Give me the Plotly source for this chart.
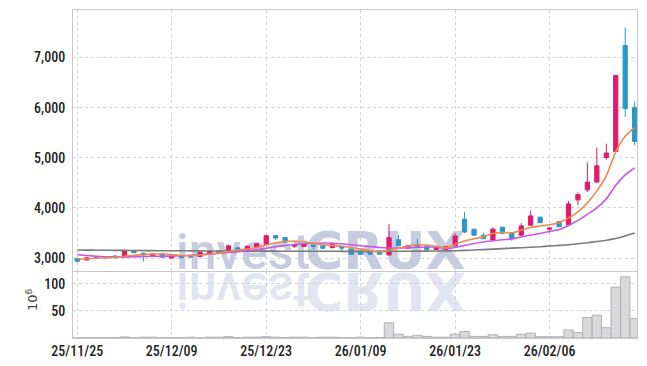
import plotly.graph_objects as go

dates = [
    "25/11/25", "25/11/26", "25/11/27", "25/11/28",
    "25/12/01", "25/12/02", "25/12/03", "25/12/04", "25/12/05",
    "25/12/08", "25/12/09", "25/12/10", "25/12/11", "25/12/12",
    "25/12/15", "25/12/16", "25/12/17", "25/12/18", "25/12/19",
    "25/12/22", "25/12/23", "25/12/24", "25/12/26", "25/12/29", "25/12/30",
    "26/01/02", "26/01/05", "26/01/06", "26/01/07", "26/01/08", "26/01/09",
    "26/01/12", "26/01/13", "26/01/14", "26/01/15", "26/01/16",
    "26/01/19", "26/01/20", "26/01/21", "26/01/22", "26/01/23",
    "26/01/26", "26/01/27", "26/01/28", "26/01/29", "26/01/30",
    "26/02/02", "26/02/03", "26/02/04", "26/02/05", "26/02/06",
    "26/02/09", "26/02/10", "26/02/11", "26/02/12", "26/02/13",
    "26/02/19", "26/02/20", "26/02/23", "26/02/24",
]

open_ = [2990, 2960, 3015, 3030, 3040, 3020, 3150, 3095, 3035, 3080,
         3000, 3040, 3030, 3030, 3078, 3140, 3125, 3205, 3165, 3205,
         3275, 3445, 3410, 3235, 3232, 3260, 3245, 3205, 3232, 3180,
         3140, 3115, 3140, 3060, 3365, 3195, 3270, 3235, 3168, 3165,
         3240, 3775, 3575, 3455, 3360, 3615, 3505, 3455, 3655, 3815,
         3575, 3725, 3660, 4160, 4360, 4515, 5005, 5125, 7240, 6000]
high = [3000, 3010, 3035, 3035, 3055, 3150, 3160, 3110, 3095, 3085,
        3045, 3050, 3045, 3125, 3145, 3150, 3250, 3215, 3240, 3290,
        3455, 3450, 3415, 3270, 3285, 3265, 3250, 3280, 3240, 3185,
        3145, 3120, 3145, 3675, 3460, 3260, 3380, 3240, 3200, 3235,
        3495, 3920, 3580, 3500, 3615, 3620, 3510, 3695, 3950, 3820,
        3620, 3730, 4135, 4310, 4905, 5205, 5280, 6645, 7600, 6115]
low = [2925, 2955, 2990, 2995, 2990, 3015, 3100, 2930, 3030, 3010,
       2995, 3000, 3010, 3025, 3070, 3095, 3120, 3150, 3160, 3200,
       3270, 3355, 3300, 3200, 3225, 3170, 3185, 3200, 3140, 3070,
       3070, 3070, 3060, 3055, 3240, 3180, 3230, 3160, 3160, 3150,
       3235, 3495, 3450, 3380, 3340, 3470, 3345, 3450, 3650, 3700,
       3510, 3620, 3655, 4055, 4315, 4510, 4960, 5120, 5815, 5245]
close = [2935, 3005, 3005, 3000, 3005, 3140, 3105, 3060, 3085, 3015,
         3040, 3005, 3020, 3118, 3135, 3100, 3245, 3155, 3235, 3285,
         3445, 3400, 3315, 3262, 3268, 3235, 3195, 3272, 3195, 3075,
         3075, 3075, 3075, 3405, 3245, 3245, 3235, 3168, 3192, 3225,
         3440, 3520, 3455, 3385, 3575, 3495, 3385, 3640, 3840, 3705,
         3595, 3625, 4080, 4265, 4515, 4840, 5095, 6640, 5980, 5325]

ma_short = [2975, 2985, 2995, 3005, 3015, 3035, 3055, 3070, 3080, 3085,
            3070, 3050, 3045, 3060, 3080, 3095, 3125, 3155, 3180, 3210,
            3260, 3305, 3330, 3335, 3325, 3295, 3265, 3250, 3235, 3210,
            3180, 3150, 3120, 3160, 3200, 3240, 3270, 3260, 3235, 3200,
            3270, 3340, 3385, 3425, 3490, 3510, 3495, 3555, 3610, 3640,
            3665, 3705, 3800, 3920, 4100, 4340, 4640, 5120, 5430, 5600]
ma_mid = [3065, 3050, 3035, 3025, 3020, 3020, 3025, 3030, 3035, 3035,
          3040, 3045, 3055, 3065, 3080, 3095, 3110, 3125, 3145, 3165,
          3195, 3225, 3250, 3270, 3285, 3295, 3300, 3295, 3285, 3265,
          3245, 3230, 3210, 3200, 3200, 3205, 3215, 3220, 3215, 3190,
          3210, 3250, 3290, 3320, 3345, 3365, 3380, 3420, 3460, 3490,
          3530, 3570, 3650, 3750, 3870, 4000, 4180, 4450, 4660, 4800]
ma_long = [3160, 3158, 3156, 3155, 3153, 3152, 3150, 3148, 3147, 3146,
           3145, 3144, 3143, 3142, 3141, 3140, 3140, 3139, 3138, 3138,
           3137, 3137, 3136, 3136, 3135, 3135, 3134, 3134, 3133, 3133,
           3133, 3133, 3133, 3134, 3135, 3136, 3137, 3138, 3139, 3140,
           3145, 3152, 3160, 3168, 3178, 3188, 3198, 3206, 3215, 3225,
           3240, 3252, 3265, 3285, 3305, 3330, 3355, 3390, 3440, 3500]

volume = [0.5, 0.5, 0.3, 0.3, 0.5, 2.0, 0.5, 1.5, 1.5, 0.5,
          0.3, 0.5, 1.5, 0.5, 1.5, 1.5, 2.5, 1.0, 1.5, 1.5,
          2.5, 1.5, 1.0, 1.5, 1.5, 0.5, 1.5, 1.5, 0.5, 0.5,
          1.5, 0.5, 1.0, 28, 7, 3, 5, 3, 1.5, 1.5,
          7, 12, 3, 3, 6, 3, 3, 7, 9, 2.5,
          2.5, 2.5, 15, 10, 38, 42, 19, 94, 113, 36]

price_ticks = [3000, 4000, 5000, 6000, 7000]
volume_ticks = [50, 100]
tick_dates = dates[::10]

UP = "#E2196A"
DOWN = "#2E95C8"
GRID = "#cfd2de"
AXIS = "#c8c8cc"
TICKFONT = dict(family="Roboto Condensed, Liberation Sans Narrow, Roboto, sans-serif",
                size=14, color="#222222", weight=500)

fig = go.Figure()

fig.add_trace(go.Bar(
    x=dates, y=volume, xaxis="x2", yaxis="y2", width=1.0,
    marker=dict(color="#d9d9dc", line=dict(color="#b2b2b6", width=1)),
    hoverinfo="skip", showlegend=False))

fig.add_trace(go.Candlestick(
    x=dates, open=open_, high=high, low=low, close=close,
    increasing=dict(line=dict(color=UP, width=1), fillcolor=UP),
    decreasing=dict(line=dict(color=DOWN, width=1), fillcolor=DOWN),
    whiskerwidth=0, hoverinfo="skip", showlegend=False))

for vals, col in [(ma_long, "#7a7a7a"), (ma_mid, "#C955E8"), (ma_short, "#EF8A4C")]:
    fig.add_trace(go.Scatter(
        x=dates, y=vals, mode="lines",
        line=dict(color=col, width=1.6, shape="spline", smoothing=0.6),
        hoverinfo="skip", showlegend=False))

W, H = 647, 366
ML, MR, MT, MB = 73, 10, 10, 28
PH = H - MT - MB


def py(ypx):
    return (H - MB - ypx) / PH


def px(xpx):
    return (xpx - ML) / (W - ML - MR)


xcommon = dict(type="category", range=[-0.45, 59.25], tickmode="array",
               tickvals=tick_dates, ticktext=tick_dates,
               showgrid=True, gridcolor=GRID, griddash="dot", gridwidth=1,
               showline=True, linecolor=AXIS, linewidth=1, mirror=True,
               ticks="", zeroline=False, fixedrange=True, automargin=False)

fig.update_layout(
    width=W, height=H,
    margin=dict(l=ML, r=MR, t=MT, b=MB, autoexpand=False),
    paper_bgcolor="white", plot_bgcolor="rgba(0,0,0,0)",
    boxgap=0.36, bargap=0,
    xaxis=dict(**xcommon, anchor="y", showticklabels=False, rangeslider=dict(visible=False)),
    xaxis2=dict(**xcommon, anchor="y2", matches="x", showticklabels=True,
                tickfont=TICKFONT),
    yaxis=dict(domain=[py(271), 1], range=[2741, 7948], tickvals=price_ticks,
               tickformat=",", tickfont=TICKFONT, showgrid=True, gridcolor=GRID,
               griddash="dot", showline=True, linecolor=AXIS, mirror=True,
               ticks="", zeroline=False, ticklabelstandoff=4, automargin=False),
    yaxis2=dict(domain=[0, py(272)], range=[0, 122], tickvals=volume_ticks,
                tickfont=TICKFONT, showgrid=True, gridcolor=GRID, griddash="dot",
                showline=True, linecolor=AXIS, mirror=True, ticks="",
                zeroline=False, ticklabelstandoff=4, automargin=False),
    showlegend=False,
)

WM_TOP = "#c6cbdf"
WM_REF = "#e2e5ef"
annos = [
    dict(text="invest", x=px(243), y=py(252), font=dict(family="Roboto", size=50, color=WM_TOP, weight=500)),
    dict(text="CRUX", x=px(385), y=py(251), font=dict(family="DejaVu Sans", size=52, color=WM_TOP, weight="bold")),
    dict(text="invest", x=px(243), y=py(290), font=dict(family="Roboto", size=50, color=WM_REF, weight=500)),
    dict(text="CRUX", x=px(385), y=py(291), font=dict(family="DejaVu Sans", size=52, color=WM_REF, weight="bold")),
]
for a in annos:
    fig.add_annotation(xref="paper", yref="paper", showarrow=False,
                       xanchor="center", yanchor="middle", **a)

fig.add_annotation(text="10<sup>6</sup>", xref="paper", yref="paper",
                   x=px(32), y=py(300), showarrow=False, textangle=-90,
                   xanchor="center", yanchor="middle",
                   font=dict(family="DejaVu Sans, sans-serif", size=13, color="#444444"))

post = """
document.body.style.margin = '0';
document.body.style.padding = '0';
var gd = document.getElementById('{plot_id}');
function wm(){
  var below = gd.querySelector('.main-svg .layer-below');
  var anns = gd.querySelectorAll('g.annotation');
  anns.forEach(function(a){
    var i = parseInt(a.getAttribute('data-index'));
    if (i >= 0 && i <= 3) {
      if (i >= 2) {
        var t = a.querySelector('text.annotation-text');
        if (t) {
          t.style.transformBox = 'fill-box';
          t.style.transformOrigin = 'center';
          t.style.transform = 'scaleY(-1)';
        }
      }
      if (below) { below.insertBefore(a, below.firstChild); }
    }
  });
}
wm();
"""

fig.write_html("out.html", post_script=post,
               config={"displayModeBar": False, "staticPlot": True})
